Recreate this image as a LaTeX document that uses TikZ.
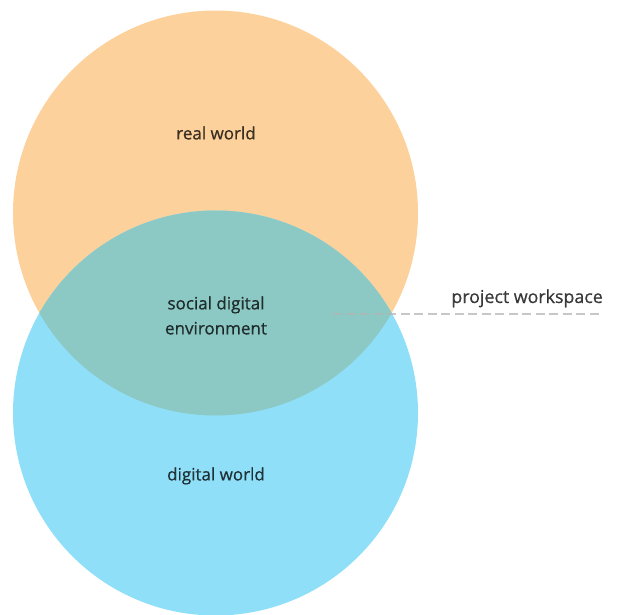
\documentclass[tikz,border=0pt]{standalone}
\usepackage{fontspec}
\setmainfont[FakeBold=0.6,AutoFakeBold=0.6]{Open Sans}
\definecolor{realworld}{HTML}{FDD19B}
\definecolor{digiworld}{HTML}{8FDFF8}
\definecolor{overlapc}{HTML}{8CC8C4}
\definecolor{dashgrey}{HTML}{B4B4B4}
\begin{document}
\begin{tikzpicture}[x=1pt,y=-1pt,
  label/.style={font=\fontsize{17}{25}\selectfont\bfseries, text=black, text opacity=0.75, align=center, inner sep=0pt},
  guide/.style={draw=dashgrey, line width=2pt, dash pattern=on 9pt off 4.5pt, opacity=0.75}]
  \useasboundingbox (0,0) rectangle (622,615);
  % two worlds
  \coordinate (ctop) at (215.5,213);
  \coordinate (cbot) at (215.5,413);
  \fill[realworld] (ctop) circle (202.5);
  \fill[digiworld] (cbot) circle (202.5);
  \begin{scope}
    \clip (ctop) circle (202.5);
    \fill[overlapc] (cbot) circle (202.5);
  \end{scope}
  % labels
  \node[label] (real) at (216,133) {real world};
  \node[label] (social) at (216,315.5) {social digital\\environment};
  \node[label] (digital) at (216,476) {digital world};
  % project workspace marker
  \coordinate (ws0) at (333,313.5);
  \coordinate (ws1) at (603,313.5);
  \draw[guide] (ws0) -- (ws1);
  \node[label, font=\fontsize{17.8}{25}\selectfont\bfseries, anchor=base east] (ws) at (603,303) {project workspace};
\end{tikzpicture}
\end{document}
